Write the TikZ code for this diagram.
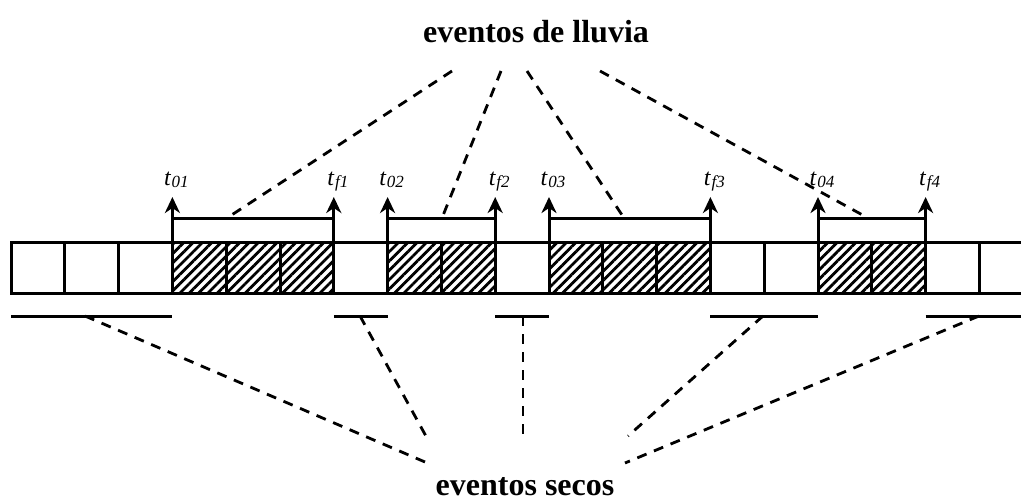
\documentclass[tikz,border=0pt]{standalone}
\usepackage{fontspec}
\setmainfont{Liberation Serif}
\usetikzlibrary{arrows.meta,patterns.meta}
\newcommand\tlab[1]{{\fontsize{24}{28}\selectfont\itshape t\kern1pt\raisebox{-2.5pt}{\fontsize{17}{18}\selectfont #1}}}
\begin{document}
\begin{tikzpicture}[x=1pt,y=-1pt,
  cell/.style={draw,line width=3pt,minimum width=53.8pt,minimum height=51pt,inner sep=0pt,outer sep=0pt,anchor=north west},
  wet/.style={cell,pattern={Lines[angle=45,distance=6.6pt,line width=2.8pt]}},
  arr/.style={line width=3pt,-{Stealth[length=16pt,width=15pt,inset=5pt]}},
  brk/.style={line width=3pt},
  seg/.style={line width=3pt},
  dsh/.style={line width=2.8pt,dash pattern=on 10pt off 8pt},
  tl/.style={anchor=base,inner sep=0pt,xshift=4pt,yshift=12pt},
  big/.style={font=\fontsize{32}{38}\selectfont\bfseries,inner sep=0pt}
]
\path[use as bounding box] (0,0) rectangle (1021,501);
\clip (0,0) rectangle (1021,501);
% cells
\foreach \i in {0,1,2,6,9,13,14,17,18}{\node[cell] (c\i) at (11+53.8*\i,242) {};}
\foreach \i in {3,4,5,7,8,10,11,12,15,16}{\node[wet] (c\i) at (11+53.8*\i,242) {};}
% arrows and labels
\draw[arr] (c3.north west) -- ++(0,-45) node[tl] (l01) {\tlab{01}};
\draw[arr] (c5.north east) -- ++(0,-45) node[tl] (lf1) {\tlab{f1}};
\draw[arr] (c7.north west) -- ++(0,-45) node[tl] (l02) {\tlab{02}};
\draw[arr] (c8.north east) -- ++(0,-45) node[tl] (lf2) {\tlab{f2}};
\draw[arr] (c10.north west) -- ++(0,-45) node[tl] (l03) {\tlab{03}};
\draw[arr] (c12.north east) -- ++(0,-45) node[tl] (lf3) {\tlab{f3}};
\draw[arr] (c15.north west) -- ++(0,-45) node[tl] (l04) {\tlab{04}};
\draw[arr] (c16.north east) -- ++(0,-45) node[tl] (lf4) {\tlab{f4}};
% brackets
\draw[brk] ([yshift=24pt]c3.north west) -- ([yshift=24pt]c5.north east);
\draw[brk] ([yshift=24pt]c7.north west) -- ([yshift=24pt]c8.north east);
\draw[brk] ([yshift=24pt]c10.north west) -- ([yshift=24pt]c12.north east);
\draw[brk] ([yshift=24pt]c15.north west) -- ([yshift=24pt]c16.north east);
% dry segments
\draw[seg] ([yshift=-23pt]c0.south west) -- ([yshift=-23pt]c2.south east);
\draw[seg] ([yshift=-23pt]c6.south west) -- ([yshift=-23pt]c6.south east);
\draw[seg] ([yshift=-23pt]c9.south west) -- ([yshift=-23pt]c9.south east);
\draw[seg] ([yshift=-23pt]c13.south west) -- ([yshift=-23pt]c14.south east);
\draw[seg] ([yshift=-23pt]c17.south west) -- ([yshift=-23pt]c18.south east);
% labels
\node[big] (rain) at (536,32) {eventos de lluvia};
\node[big] (dry) at (525,487) {eventos secos};
% top connectors
\coordinate (r1) at (452,71); \coordinate (b1) at (227,218);
\coordinate (r2) at (501,71); \coordinate (b2) at (442,218);
\coordinate (r3) at (527,71); \coordinate (b3) at (624,218);
\coordinate (r4) at (600,71); \coordinate (b4) at (868,218);
\draw[dsh] (r1) -- (b1);
\draw[dsh] (r2) -- (b2);
\draw[dsh] (r3) -- (b3);
\draw[dsh] (r4) -- (b4);
% bottom connectors
\coordinate (s1) at (85,316);  \coordinate (d1) at (425,462);
\coordinate (s2) at (360,316); \coordinate (d2) at (427,438);
\coordinate (s3) at (523,316); \coordinate (d3) at (523,438);
\coordinate (s4) at (763,316); \coordinate (d4) at (628,436);
\coordinate (s5) at (979,316); \coordinate (d5) at (625,463);
\draw[dsh] (s1) -- (d1);
\draw[dsh] (s2) -- (d2);
\draw[dsh] (s3) -- (d3);
\draw[dsh] (s4) -- (d4);
\draw[dsh] (s5) -- (d5);
\end{tikzpicture}
\end{document}
